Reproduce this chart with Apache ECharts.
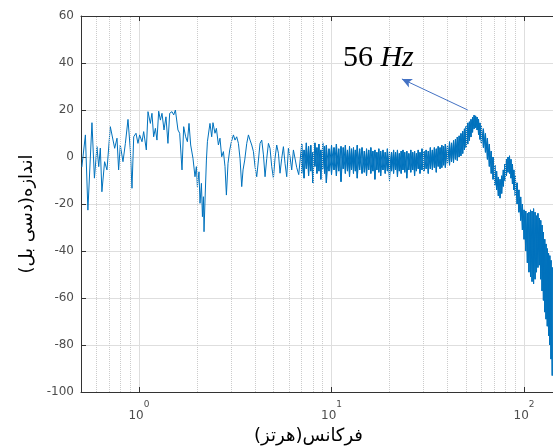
<!DOCTYPE html>
<html><head><meta charset="utf-8">
<script src="https://cdn.jsdelivr.net/npm/echarts@6/dist/echarts.min.js"></script>
<style>html,body{margin:0;padding:0;background:#fff}#c{width:553px;height:447px}</style>
</head><body><div id="c"></div>
<script>
// Low-frequency part (individual oscillations), frequency in Hz and magnitude in dB
const lowFreq = [0.505,0.527,0.543,0.570,0.587,0.605,0.618,0.630,0.642,0.663,
0.682,0.710,0.748,0.769,0.784,0.800,0.826,0.850,0.877,0.902,
0.920,0.939,0.965,0.988,1.008,1.037,1.058,1.092,1.114,1.146,
1.168,1.192,1.217,1.240,1.266,1.292,1.317,1.349,1.381,1.414,
1.444,1.484,1.515,1.546,1.594,1.627,1.673,1.707,1.748,1.784,
1.819,1.856,1.908,1.954,1.987,2.011,2.050,2.075,2.110,2.136,
2.161,2.177,2.203,2.240,2.267,2.311,2.338,2.386,2.423,2.482,
2.524,2.585,2.635,2.689,2.745,2.798,2.845,2.900,2.960,3.020,
3.094,3.154,3.218,3.284,3.348,3.417,3.471,3.542,3.628,3.702,
3.774,3.851,3.930,4.006,4.088,4.173,4.253,4.341,4.430,4.516,
4.609,4.702,4.793,4.891,4.992,5.088,5.192,5.300,5.402,5.512,
5.625,5.734,5.852,5.972,6.087,6.212,6.340,6.463,6.596,6.755];
const lowMag = [-4.3,9.4,-22.6,14.6,-9,4.4,-4.1,3.8,-14.8,-2,
-5.5,12.9,3.7,8,-5.5,5.1,-2,5.8,16,3,
-13.3,8.6,10.1,5.8,9.4,6.5,10.8,3,19.3,14.3,
18.6,8.6,12.2,7.2,19.5,15.7,18.6,11.5,17.1,5.8,
18.6,19.3,17.9,20,11.5,10.1,-5.5,12.9,8.6,6.5,
14.3,5.1,-0.6,-8.4,-4.1,-12.6,-6.3,-19.7,-11.2,-25.4,
-16.9,-31.8,-18.3,-1.3,6.5,11.5,14.3,8.6,14.6,10.1,
12.2,5.1,8,0.1,2.3,-4.1,-16.2,-2.7,3,6.5,
9.4,7.2,8.6,5.8,-0.6,-12.6,-5.5,-1.3,5.8,9.4,
7.2,5.1,2.3,-4.1,-8.4,-1.3,5.8,7.2,0.9,-8.4,
-0.6,5.8,3.7,-4.1,-9,-0.6,5.1,1.6,-6.9,-0.6,
4.4,-2.7,-8.4,3.7,0.1,-5.5,3,3.7,-4.5,-7.5];

// Dense noisy part: upper and lower extent of the trace at each frequency
const bandFreq = [7.0,7.2,7.4,7.6,7.8,8.0,8.2,8.4,8.6,8.8,
9.0,9.2,9.4,9.7,10,10.3,10.6,10.9,11.2,11.5,
11.8,12.1,12.4,12.7,13,13.3,13.6,14,14.4,14.8,
15.2,15.6,16,16.4,16.8,17.2,17.6,18,18.5,19,
19.5,20,20.5,21,21.5,22,22.5,23,23.5,24,
24.6,25.2,25.8,26.4,27,27.6,28.2,28.8,29.5,30.2,
31,31.8,32.6,33.4,34.2,35,35.8,36.6,37.4,38.2,
39,40,41,42,43,44,45,46,47,48,
49,50,51,52,53,54,55,56,57,58,
59,60,61.5,63,64.5,66,67.5,69,70.5,72,
73.5,75,76.5,78,79.5,81,82.5,84,85.5,87,
88.5,90,92,94,96,98,100,102,104,106,
108,110,112,114,116,118,120,122,124,126,
128,130,132,134,136,138,140];
const bandTop = [5.5,3,6,4.5,5,2,6,4,5.5,3,
6,4.5,5,3.5,5,4,5.5,3.5,4.5,4,
5,3,4.5,3.5,4,3,5,3.5,4,2.5,
3.5,3,4,2.5,3,2,3.5,2.5,3,2,
3.5,2.5,2,3,2,3,1.5,2.5,3,2,
2.5,1.5,3,2,2.5,1.5,3,2,3.5,2.5,
3,2.5,4,3,4,3.5,4.5,4,5,4.5,
5.5,5,6.5,6,7,7.5,8.5,9,10,11,
12,13,14.5,15,16,17,17.8,17.5,17,16,
14.5,13.5,12,10,8,5.5,2.5,0,-3.5,-6,
-8.5,-9.5,-8,-5.5,-3,-1,0,0.5,-1,-3,
-5.5,-8,-11,-14,-17,-20,-22.5,-23,-24,-23.5,
-22.5,-23,-22,-23.5,-25,-24,-26,-27,-29,-32,
-35,-37,-39,-41,-42,-44,-47];
const bandBottom = [-7,-9,-5,-8,-6,-11,-4,-7,-6,-9.5,
-5,-7,-11,-6,-7.5,-5.5,-8,-6,-10.5,-5,
-7,-6,-8.5,-5.5,-7,-6,-9,-5.5,-7,-6.5,
-8,-5.5,-7,-6,-9.5,-5.5,-6.5,-8,-5.5,-7,
-6,-10,-6,-7,-5.5,-8.5,-6,-7,-5.5,-6.5,
-9,-5.5,-6.5,-5.5,-8,-6,-5,-7,-5.5,-6,
-5,-7,-5,-5.5,-4.5,-6.5,-4,-5,-4.5,-3.5,
-4.5,-3,-3.5,-2,-2.5,-1,-1.5,0,0.5,1.5,
3,4,5.5,7,8.5,10.5,12,12.5,11.5,9.5,
7.5,6,4,2,-1,-4,-7,-9.5,-12,-14,
-16.5,-17.5,-15.5,-12.5,-10,-8,-6.5,-7,-9,-11.5,
-14,-16.5,-20,-23.5,-27,-31,-35,-40,-45,-49,
-51,-53,-54,-52,-49,-47,-46,-52,-57,-61,
-66,-69,-72,-76,-80,-86,-93];

// Axes
const xMin = 0.5, xMax = 150;
const yMin = -100, yMax = 60, yStep = 20;
const minorGridFreq = [0.6,0.7,0.8,0.9,2,3,4,5,6,7,8,9,20,30,40,50,60,70,80,90];

// Annotation (data coordinates)
const peakArrowFrom = [51, 20];
const peakArrowTo = [23.2, 33.2];
const peakLabelAt = [17.5, 42.1];
const peakLabelNum = '56';
const peakLabelUnit = 'Hz';

const xName = 'فرکانس(هرتز)';
const yName = 'اندازه(دسی بل)';

// main trace: low part then dense part (top -> bottom at each frequency)
const lineData = lowFreq.map((f, i) => [f, lowMag[i]]);
bandFreq.forEach((f, i) => { lineData.push([f, bandTop[i]]); lineData.push([f, bandBottom[i]]); });
// second pass of the dense part (bottom -> top) so the noise crosses both ways
const hatchData = [];
bandFreq.forEach((f, i) => { hatchData.push([f, bandBottom[i]]); hatchData.push([f, bandTop[i]]); });

const labelColor = '#4d4d4d';
const axisColor = '#333333';
const gridColor = '#dedede';
const traceColor = '#0072BD';

function powLabel(v) {
  const e = Math.round(Math.log10(v));
  if (Math.abs(v / Math.pow(10, e) - 1) > 1e-6) return '';
  return '{b|10}{s|' + e + '}';
}

const chart = echarts.init(document.getElementById('c'), null, {renderer: 'canvas'});
chart.setOption({
  animation: false,
  backgroundColor: '#ffffff',
  grid: {left: 81, top: 16, right: -5, bottom: 55, containLabel: false, outerBoundsMode: 'none'},
  xAxis: [{
    type: 'log', logBase: 10, min: xMin, max: xMax, position: 'bottom',
    axisLine: {show: true, onZero: false, lineStyle: {color: axisColor, width: 1}},
    axisTick: {show: true, inside: true, length: 5, lineStyle: {color: axisColor}},
    axisLabel: {
      formatter: powLabel, margin: 8, showMinLabel: false, showMaxLabel: false,
      rich: {
        b: {fontFamily: 'DejaVu Sans', fontSize: 12, color: labelColor, lineHeight: 22, verticalAlign: 'bottom'},
        s: {fontFamily: 'DejaVu Sans', fontSize: 9, color: labelColor, lineHeight: 10, verticalAlign: 'top'}
      }
    },
    splitLine: {show: true, lineStyle: {color: gridColor, width: 1}},
    name: xName, nameLocation: 'middle', nameGap: 28,
    nameTextStyle: {fontFamily: 'DejaVu Sans', fontSize: 18, color: '#000', padding: [0, 22, 0, 0]}
  }, {
    type: 'log', logBase: 10, min: xMin, max: xMax, position: 'top',
    axisLine: {show: true, onZero: false, lineStyle: {color: axisColor, width: 1}},
    axisTick: {show: true, inside: true, length: 5, lineStyle: {color: axisColor}},
    axisLabel: {show: false}, splitLine: {show: false}
  }],
  yAxis: {
    type: 'value', min: yMin, max: yMax, interval: yStep,
    axisLine: {show: true, onZero: false, lineStyle: {color: axisColor, width: 1}},
    axisTick: {show: true, inside: true, length: 5, lineStyle: {color: axisColor}},
    axisLabel: {fontFamily: 'DejaVu Sans', fontSize: 12, color: labelColor, margin: 7},
    splitLine: {show: true, lineStyle: {color: gridColor, width: 1}},
    name: yName, nameLocation: 'middle', nameGap: 44, nameRotate: 90,
    nameTextStyle: {fontFamily: 'DejaVu Sans', fontSize: 18, color: '#000', padding: [0, 20, 0, 0]}
  },
  series: [{
    type: 'line', data: [], silent: true, z: 1,
    markLine: {
      silent: true, symbol: ['none', 'none'], label: {show: false},
      lineStyle: {type: 'dotted', color: '#cccccc', width: 1},
      emphasis: {disabled: true},
      data: minorGridFreq.map(f => ({xAxis: f}))
    }
  }, {
    type: 'line', data: hatchData, showSymbol: false, symbol: 'none', z: 2,
    lineStyle: {color: traceColor, width: 1}, emphasis: {disabled: true}, silent: true
  }, {
    type: 'line', data: lineData, showSymbol: false, symbol: 'none', z: 3,
    lineStyle: {color: traceColor, width: 1}, emphasis: {disabled: true}, silent: true,
    markLine: {
      silent: true, symbol: ['none', 'arrow'], symbolSize: [7, 10], label: {show: false},
      lineStyle: {type: 'solid', color: '#4472C4', width: 1},
      emphasis: {disabled: true},
      data: [[{coord: peakArrowFrom}, {coord: peakArrowTo}]]
    },
    markPoint: {
      silent: true,
      data: [{
        coord: peakLabelAt, symbol: 'circle', symbolSize: 1, itemStyle: {color: 'rgba(0,0,0,0)'},
        label: {
          show: true, position: 'inside', formatter: '{n|' + peakLabelNum + ' }{i|' + peakLabelUnit + '}',
          rich: {
            n: {fontFamily: 'Liberation Serif', fontSize: 30, color: '#000'},
            i: {fontFamily: 'Liberation Serif', fontSize: 30, fontStyle: 'italic', color: '#000'}
          }
        }
      }]
    }
  }]
});
</script>
</body></html>
